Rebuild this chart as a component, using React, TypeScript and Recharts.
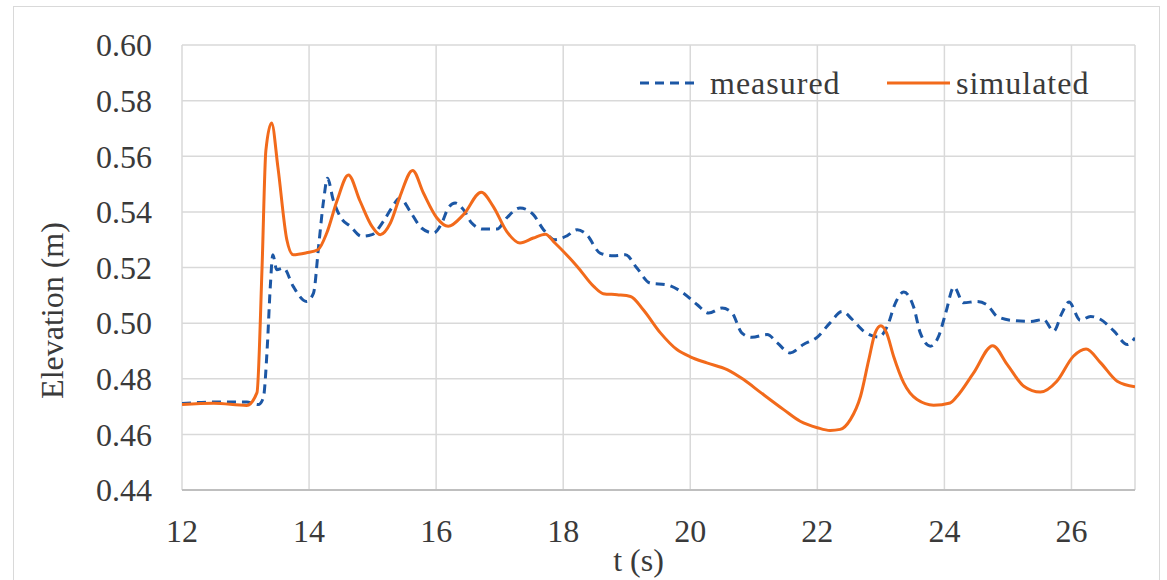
import React from 'react';
import { LineChart, Line, XAxis, YAxis, CartesianGrid } from 'recharts';

const xTicks = [12, 14, 16, 18, 20, 22, 24, 26];
const yTicks = [0.44, 0.46, 0.48, 0.5, 0.52, 0.54, 0.56, 0.58, 0.6];

const tMeasured = [
  12.0, 12.5, 13.02, 13.2, 13.28, 13.34, 13.39, 13.43, 13.49, 13.6, 13.75, 13.96, 14.07, 14.15, 14.23, 14.29,
  14.38, 14.49, 14.65, 14.83, 14.99, 15.17, 15.3, 15.43, 15.59, 15.77, 15.96, 16.09, 16.19, 16.3, 16.43, 16.56,
  16.74, 16.96, 17.11, 17.32, 17.53, 17.69, 17.87, 18.06, 18.22, 18.37, 18.58, 18.79, 18.98, 19.16, 19.37, 19.63,
  19.89, 20.11, 20.29, 20.5, 20.66, 20.81, 20.97, 21.21, 21.37, 21.57, 21.78, 22.0, 22.2, 22.39, 22.55, 22.73,
  22.97, 23.1, 23.23, 23.36, 23.52, 23.62, 23.78, 23.91, 24.02, 24.15, 24.3, 24.51, 24.67, 24.83, 25.09, 25.35,
  25.56, 25.72, 25.85, 25.96, 26.14, 26.3, 26.46, 26.67, 26.88, 27.0,
];
const vMeasured = [
  0.4711, 0.4716, 0.4716, 0.4707, 0.4731, 0.4905, 0.5132, 0.5246, 0.5192, 0.5198, 0.5132, 0.5078, 0.5108, 0.5276, 0.5443, 0.5521,
  0.5443, 0.5383, 0.5348, 0.5312, 0.5318, 0.5366, 0.5414, 0.545, 0.5402, 0.5342, 0.5324, 0.536, 0.5414, 0.5432, 0.5408, 0.536,
  0.5338, 0.5338, 0.5378, 0.5414, 0.539, 0.5336, 0.53, 0.5314, 0.5336, 0.5318, 0.5252, 0.5242, 0.5246, 0.5198, 0.5144, 0.5138,
  0.5108, 0.5066, 0.5036, 0.5054, 0.5036, 0.4965, 0.4949, 0.4959, 0.4929, 0.4893, 0.4923, 0.495, 0.5001, 0.5042, 0.5013, 0.4971,
  0.495, 0.4988, 0.5073, 0.5112, 0.5055, 0.4965, 0.4917, 0.4953, 0.5036, 0.513, 0.5073, 0.5078, 0.5066, 0.5024, 0.5009, 0.5006,
  0.5013, 0.4971, 0.5036, 0.5076, 0.501, 0.5024, 0.5013, 0.4971, 0.4923, 0.4947,
];

const tSimulated = [
  12.0, 12.5, 13.02, 13.18, 13.26, 13.32, 13.41, 13.51, 13.65, 13.75, 13.96, 14.14, 14.28, 14.44, 14.62, 14.8,
  14.99, 15.12, 15.28, 15.43, 15.63, 15.8, 16.01, 16.19, 16.43, 16.71, 16.9, 17.11, 17.32, 17.53, 17.72, 17.87,
  18.22, 18.48, 18.63, 18.85, 19.06, 19.26, 19.53, 19.79, 20.0, 20.26, 20.58, 20.84, 21.1, 21.47, 21.73, 22.0,
  22.2, 22.36, 22.52, 22.68, 22.81, 22.91, 23.0, 23.09, 23.2, 23.36, 23.57, 23.83, 24.09, 24.2, 24.46, 24.76,
  24.99, 25.25, 25.51, 25.77, 26.03, 26.23, 26.46, 26.72, 27.0,
];
const vSimulated = [
  0.4707, 0.4712, 0.4704, 0.475, 0.52, 0.562, 0.572, 0.556, 0.53, 0.5246, 0.5253, 0.5264, 0.5325, 0.544, 0.5533, 0.544,
  0.5348, 0.5318, 0.536, 0.5455, 0.5549, 0.5468, 0.5379, 0.5348, 0.539, 0.5471, 0.5419, 0.533, 0.5288, 0.5306, 0.532, 0.5288,
  0.5204, 0.5132, 0.5106, 0.5102, 0.5096, 0.5048, 0.4965, 0.4905, 0.4879, 0.4857, 0.4833, 0.4797, 0.4752, 0.4689, 0.4647, 0.4624,
  0.4614, 0.4618, 0.4653, 0.4737, 0.4869, 0.4965, 0.4991, 0.4965, 0.4881, 0.4785, 0.4725, 0.4705, 0.4713, 0.4737, 0.4821, 0.4919,
  0.4851, 0.4773, 0.4752, 0.4791, 0.4881, 0.4907, 0.4857, 0.4791, 0.4771,
];

const measured = tMeasured.map((t, i) => ({ t, v: vMeasured[i] }));
const simulated = tSimulated.map((t, i) => ({ t, v: vSimulated[i] }));

const FONT = '"Liberation Serif", "Times New Roman", serif';
const TEXT = '#3a3a3a';
const BLUE = '#1c57a5';
const ORANGE = '#f26a1b';
const txtStyle: React.CSSProperties = { fontFamily: FONT, fontSize: 32, fill: TEXT };

const XTick = (props: any) => {
  const { x, y, payload } = props;
  return (
    <text x={x} y={y} dy="0.71em" textAnchor="middle" style={txtStyle}>
      {payload.value}
    </text>
  );
};

const YTick = (props: any) => {
  const { x, y, payload } = props;
  return (
    <text x={x} y={y} dy="0.355em" textAnchor="end" style={txtStyle}>
      {Number(payload.value).toFixed(2)}
    </text>
  );
};

const ChartLegend = () => (
  <svg width={470} height={44} style={{ position: 'absolute', left: 630, top: 62, overflow: 'visible' }}>
    <line x1={10} y1={21} x2={68} y2={21} stroke={BLUE} strokeWidth={3} strokeDasharray="9 6" />
    <text x={80} y={32} style={{ ...txtStyle, letterSpacing: 1 }}>measured</text>
    <line x1={257} y1={21} x2={320} y2={21} stroke={ORANGE} strokeWidth={3} />
    <text x={326} y={32} style={{ ...txtStyle, letterSpacing: 1 }}>simulated</text>
  </svg>
);

export default function App() {
  return (
    <div style={{ position: 'absolute', left: 0, top: 0, width: 1167, height: 580, background: '#fff', overflow: 'hidden' }}>
      <div style={{ position: 'absolute', left: 13, top: 6, width: 1145, height: 600, border: '1.5px solid #d9d9d9' }} />
      <div style={{ position: 'absolute', left: 0, top: 0 }}>
        <LineChart width={1167} height={580} margin={{ top: 45, right: 32, left: 122, bottom: 60 }}>
          <CartesianGrid stroke="#d9d9d9" strokeWidth={1.5} />
          <XAxis
            type="number"
            dataKey="t"
            domain={[12, 27]}
            ticks={xTicks}
            allowDataOverflow
            tickLine={false}
            axisLine={{ stroke: '#bfbfbf', strokeWidth: 2 }}
            tickSize={6}
            tickMargin={23}
            height={30}
            tick={<XTick />}
            label={(props: any) => {
              const vb = props.viewBox || {};
              return (
                <text
                  x={vb.x + vb.width / 2 - 20}
                  y={vb.y + 81}
                  textAnchor="middle"
                  style={txtStyle}
                >
                  t (s)
                </text>
              );
            }}
          />
          <YAxis
            type="number"
            domain={[0.44, 0.6]}
            ticks={yTicks}
            allowDataOverflow
            tickLine={false}
            axisLine={false}
            tickSize={6}
            tickMargin={24}
            width={60}
            tick={<YTick />}
            label={(props: any) => {
              const vb = props.viewBox || {};
              const cx = vb.x - 70;
              const cy = vb.y + vb.height / 2 + 43;
              return (
                <text
                  x={cx}
                  y={cy}
                  transform={`rotate(-90, ${cx}, ${cy})`}
                  textAnchor="middle"
                  dominantBaseline="central"
                  style={txtStyle}
                >
                  Elevation (m)
                </text>
              );
            }}
          />
          <Line
            data={measured}
            dataKey="v"
            name="measured"
            type="monotone"
            stroke={BLUE}
            strokeWidth={3}
            strokeDasharray="9 6"
            dot={false}
            activeDot={false}
            isAnimationActive={false}
          />
          <Line
            data={simulated}
            dataKey="v"
            name="simulated"
            type="monotone"
            stroke={ORANGE}
            strokeWidth={3}
            dot={false}
            activeDot={false}
            isAnimationActive={false}
          />
        </LineChart>
      </div>
      <ChartLegend />
    </div>
  );
}
